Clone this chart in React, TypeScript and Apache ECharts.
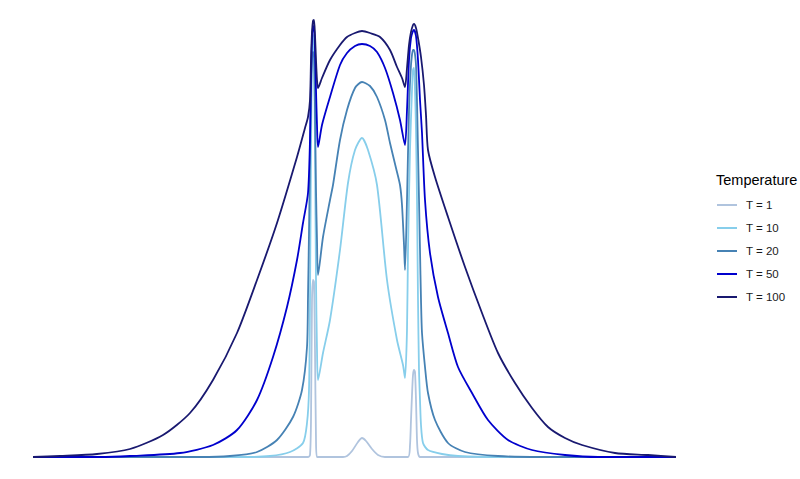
import React, { useEffect, useRef } from "react";
import * as echarts from "echarts";

// Positions (x) and density heights (y)
const t1: [number, number][] = [
  [0, 0], [275, 0], [277, 2], [278, 37], [279, 157], [280, 177], [281, 175], [282, 107], [283, 17], [284, 0],
  [310, 0], [314, 1], [319, 6], [325, 15], [329, 19], [333, 16], [339, 8], [345, 2], [352, 0],
  [375, 0], [377, 12], [378, 37], [379, 62], [380, 82], [381, 87], [382, 85], [383, 57], [384, 17], [385, 4], [387, 0],
  [643, 0],
];

const t10: [number, number][] = [
  [0, 0], [207, 0], [237, 1], [257, 5], [270, 14], [274, 34], [276, 67], [277, 157], [278, 307], [279, 397],
  [280, 422], [281, 412], [282, 307], [283, 177], [284, 107], [285, 77], [290, 104], [297, 137], [307, 207],
  [315, 274], [322, 307], [329, 319], [335, 307], [344, 272], [354, 177], [364, 117], [370, 92], [372, 79],
  [374, 127], [375, 207], [377, 307], [379, 367], [380, 387], [381, 389], [382, 367], [383, 327], [384, 257],
  [385, 157], [386, 87], [387, 57], [388, 32], [390, 14], [395, 7], [409, 3], [425, 1], [467, 0], [643, 0],
];

const t20: [number, number][] = [
  [0, 0], [167, 0], [197, 1], [224, 5], [244, 17], [260, 40], [269, 67], [274, 110], [275, 160], [276, 224],
  [277, 297], [278, 367], [279, 397], [280, 405], [281, 402], [282, 347], [283, 267], [284, 217], [285, 182],
  [290, 220], [297, 257], [300, 272], [307, 317], [314, 347], [322, 369], [329, 375], [337, 371], [344, 360],
  [352, 337], [357, 314], [363, 289], [367, 272], [369, 252], [371, 212], [372, 187], [374, 257], [376, 347],
  [378, 392], [380, 407], [381, 407], [383, 392], [385, 307], [387, 207], [388, 157], [389, 124], [392, 90],
  [395, 64], [402, 37], [415, 14], [432, 5], [465, 1], [507, 0], [643, 0],
];

const t50: [number, number][] = [
  [0, 0], [67, 0], [97, 1], [147, 4], [180, 12], [204, 27], [224, 57], [240, 100], [254, 150], [264, 197],
  [270, 234], [275, 264], [277, 317], [278, 377], [279, 417], [280, 430], [281, 431], [282, 407], [283, 367],
  [284, 332], [285, 310], [289, 332], [297, 360], [307, 392], [314, 404], [322, 411], [329, 413], [337, 411],
  [344, 405], [352, 389], [360, 364], [367, 337], [372, 312], [374, 347], [376, 397], [378, 419], [380, 426],
  [381, 427], [383, 421], [385, 397], [387, 357], [389, 324], [392, 257], [397, 204], [405, 160], [415, 124],
  [425, 90], [439, 64], [455, 37], [475, 17], [499, 7], [532, 2], [565, 0], [643, 0],
];

const t100: [number, number][] = [
  [0, 0], [27, 1], [64, 3], [97, 8], [130, 22], [157, 44], [180, 77], [204, 124], [224, 177], [244, 234],
  [264, 300], [272, 329], [275, 340], [277, 357], [278, 397], [279, 425], [280, 436], [281, 437], [282, 422],
  [283, 397], [284, 377], [285, 369], [289, 379], [297, 397], [307, 412], [314, 420], [322, 424], [329, 426],
  [337, 424], [347, 420], [357, 407], [364, 390], [369, 379], [372, 370], [374, 389], [376, 412], [378, 425],
  [380, 432], [381, 433], [383, 429], [385, 419], [388, 400], [391, 372], [393, 342], [395, 307], [402, 280],
  [415, 240], [432, 190], [449, 144], [465, 104], [482, 74], [499, 49], [515, 30], [532, 19], [549, 12],
  [582, 4], [615, 2], [643, 0],
];

const seriesNames = ["T = 1", "T = 10", "T = 20", "T = 50", "T = 100"];
const seriesData = [t1, t10, t20, t50, t100];
const seriesColors = ["#B0C4DE", "#87CEEB", "#4682B4", "#0000CD", "#191970"];

const FONT = "'Liberation Sans', Arial, sans-serif";

export default function App() {
  const ref = useRef<HTMLDivElement>(null);
  useEffect(() => {
    if (!ref.current) return;
    const chart = echarts.init(ref.current, undefined, { renderer: "svg" });
    chart.setOption({
      animation: false,
      backgroundColor: "#ffffff",
      title: {
        text: "Temperature",
        left: 716,
        top: 172,
        padding: 0,
        textStyle: { fontSize: 14.5, fontWeight: "normal", color: "#000", fontFamily: FONT },
      },
      legend: {
        orient: "vertical",
        left: 717,
        top: 198,
        padding: 0,
        icon: "rect",
        itemWidth: 20,
        itemHeight: 2,
        itemGap: 9,
        data: seriesNames,
        textStyle: {
          fontSize: 11.5,
          lineHeight: 14,
          color: "#1a1a1a",
          fontFamily: FONT,
          padding: [0, 0, 0, 4],
        },
      },
      grid: { left: 33, right: 124, top: 20, bottom: 22, containLabel: false },
      xAxis: { type: "value", min: 0, max: 643, show: false },
      yAxis: { type: "value", min: 0, max: 437, show: false },
      series: seriesData.map((d, i) => ({
        name: seriesNames[i],
        type: "line",
        data: d,
        showSymbol: false,
        symbol: "none",
        smooth: 0.25,
        color: seriesColors[i],
        lineStyle: { color: seriesColors[i], width: 1.8, join: "round" },
      })),
    });
    return () => chart.dispose();
  }, []);
  return (
    <div
      ref={ref}
      style={{ position: "fixed", left: 0, top: 0, width: 800, height: 479, background: "#fff" }}
    />
  );
}
